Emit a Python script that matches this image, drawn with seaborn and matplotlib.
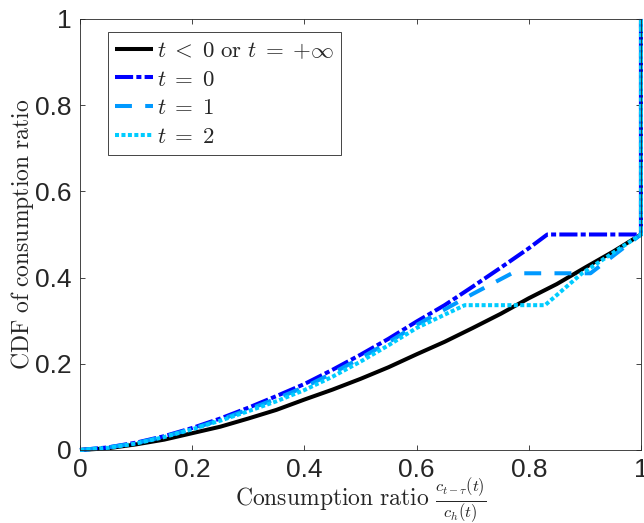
import numpy as np
import pandas as pd
import matplotlib
matplotlib.use("Agg")
import matplotlib.pyplot as plt
import seaborn as sns

# values
x_black = [0.0, 0.05, 0.1, 0.15, 0.2, 0.25, 0.3, 0.35, 0.4, 0.45, 0.5, 0.55,
           0.6, 0.65, 0.7, 0.75, 0.8, 0.85, 0.9, 0.95, 1.0, 1.0]
y_black = [0.0, 0.004, 0.013, 0.024, 0.039, 0.054, 0.073, 0.093, 0.117, 0.14,
           0.165, 0.192, 0.222, 0.251, 0.283, 0.316, 0.352, 0.385, 0.423, 0.46,
           0.5, 1.0]

x_t0 = [0.0, 0.05, 0.1, 0.15, 0.2, 0.25, 0.3, 0.35, 0.4, 0.45, 0.5, 0.55,
        0.6, 0.65, 0.7, 0.75, 0.8, 0.833, 1.0, 1.0]
y_t0 = [0.0, 0.006, 0.017, 0.032, 0.051, 0.073, 0.098, 0.125, 0.153, 0.186,
        0.221, 0.258, 0.298, 0.336, 0.379, 0.423, 0.468, 0.5, 0.5, 1.0]

x_t1 = [0.0, 0.05, 0.1, 0.15, 0.2, 0.25, 0.3, 0.35, 0.4, 0.45, 0.5, 0.55,
        0.6, 0.65, 0.7, 0.77, 0.91, 1.0, 1.0]
y_t1 = [0.0, 0.006, 0.016, 0.031, 0.049, 0.07, 0.094, 0.119, 0.146, 0.178,
        0.213, 0.25, 0.29, 0.326, 0.362, 0.41, 0.41, 0.5, 1.0]

x_t2 = [0.0, 0.05, 0.1, 0.15, 0.2, 0.25, 0.3, 0.35, 0.4, 0.45, 0.5, 0.55,
        0.6, 0.65, 0.686, 0.829, 0.895, 1.0, 1.0]
y_t2 = [0.0, 0.005, 0.015, 0.03, 0.048, 0.068, 0.09, 0.113, 0.139, 0.17,
        0.205, 0.243, 0.283, 0.314, 0.336, 0.336, 0.41, 0.5, 1.0]

labels = [r"$t\;<\;0\ \mathrm{or}\ t\;=\;{+}\infty$", r"$t\;=\;0$",
          r"$t\;=\;1$", r"$t\;=\;2$"]
colors = ["black", "#0000ff", "#0099ff", "#00ccff"]

sns.set_theme(style="white")
plt.rcParams["mathtext.fontset"] = "cm"
plt.rcParams["font.family"] = ["Liberation Sans", "DejaVu Sans"]

fig = plt.figure(figsize=(6.44, 5.23), dpi=100)
ax = fig.add_axes([0.1242, 0.1396, 0.8711, 0.8241])

series = [(x_black, y_black), (x_t0, y_t0), (x_t1, y_t1), (x_t2, y_t2)]
dash_styles = [None, (4.5, 0.8, 1.25, 0.8), (4.2, 3.3), (1.0, 0.6)]

for (xs, ys), lab, col, dsh in zip(series, labels, colors, dash_styles):
    df = pd.DataFrame({"x": xs, "y": ys})
    sns.lineplot(data=df, x="x", y="y", ax=ax, color=col, lw=2.9,
                 estimator=None, sort=False, label=lab, clip_on=False)
    line = ax.get_lines()[-1]
    if dsh is not None:
        line.set_dashes(dsh)
    line.set_solid_capstyle("butt")
    line.set_dash_capstyle("butt")

ax.set_xlim(0, 1)
ax.set_ylim(0, 1)
ax.set_xticks([0, 0.2, 0.4, 0.6, 0.8, 1])
ax.set_xticklabels(["0", "0.2", "0.4", "0.6", "0.8", "1"])
ax.set_yticks([0, 0.2, 0.4, 0.6, 0.8, 1])
ax.set_yticklabels(["0", "0.2", "0.4", "0.6", "0.8", "1"])
ax.tick_params(direction="in", length=3.8, width=0.6, colors="#262626",
               labelsize=19, top=True, right=True, bottom=True, left=True,
               pad=6)
for sp in ax.spines.values():
    sp.set_color("#262626")
    sp.set_linewidth(0.6)

ax.set_xlabel(r"$\mathrm{Consumption\ ratio}\ \frac{c_{t-\tau}(t)}{c_h(t)}$",
              fontsize=17, color="#262626", labelpad=-4)
ax.set_ylabel(r"$\mathrm{CDF\ of\ consumption\ ratio}$",
              fontsize=17, color="#262626", labelpad=-1)

leg = ax.legend(loc="upper left", bbox_to_anchor=(0.05, 0.97), borderaxespad=0,
                fontsize=16.5, handlelength=1.65, handletextpad=0.2,
                labelspacing=0.25, borderpad=0.3, fancybox=False,
                framealpha=1, edgecolor="#262626")
leg.get_frame().set_linewidth(0.6)

fig.savefig("out.png", dpi=100)
plt.close(fig)
